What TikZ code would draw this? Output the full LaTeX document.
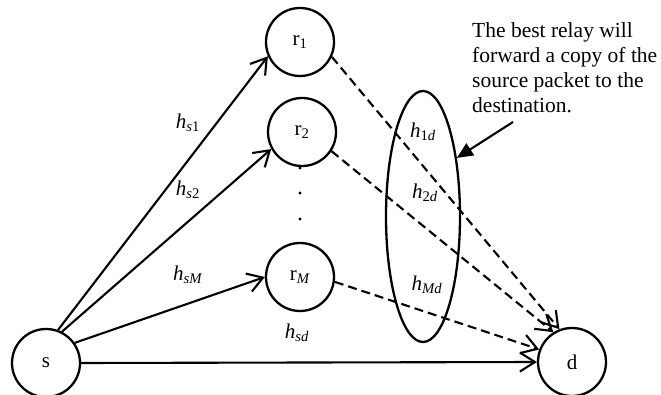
\documentclass[tikz,border=0pt]{standalone}
\usepackage{fontspec}
\setmainfont{Liberation Serif}
\usetikzlibrary{arrows.meta,shapes.geometric}
\begin{document}
\begin{tikzpicture}[x=1pt,y=-1pt,
  nd/.style={circle,draw,line width=2.3pt,minimum size=68pt,inner sep=0pt,font=\fontsize{21}{25}\selectfont},
  lbl/.style={inner sep=0pt,font=\fontsize{21}{25}\selectfont},
  link/.style={line width=2.1pt,-{Straight Barb[length=15pt,width=19pt,line width=2.1pt]}},
  dlink/.style={link,dash pattern=on 9pt off 5pt},
  callout/.style={line width=2.1pt,-{Triangle[length=16pt,width=14pt]}},
]
\useasboundingbox (0,0) rectangle (661,395);
\node[nd] (s) at (46,363) {s};
\node[nd] (d) at (572,362) {d};
\node[nd] (r1) at (300,42) {r\textsubscript{1}};
\node[nd] (r2) at (302,132) {r\textsubscript{2}};
\node[nd] (rM) at (300,277) {r\textsubscript{\textit{M}}};
\node[draw,ellipse,line width=2.3pt,minimum width=74pt,minimum height=251pt,inner sep=0pt] (grp) at (423,216.5) {};
\fill (300,168) circle (1.6pt);
\fill (300,193) circle (1.6pt);
\fill (300,219) circle (1.6pt);

\draw[link] (s.70) -- (r1.204);
\draw[link] (s.63) -- (r2.209);
\draw[link] (s.35) -- (rM.180);
\draw[link] (s.east) -- (d.west);
\draw[dlink] (r1.-25) -- (d.111);
\draw[dlink] (r2.-33) -- (d.122);
\draw[dlink] (rM.-8) -- (d.159);

\node[lbl] (hs1) at (188,123) {\textit{h}\textsubscript{\textit{s}1}};
\node[lbl] (hs2) at (188,190) {\textit{h}\textsubscript{\textit{s}2}};
\node[lbl] (hsM) at (188,275) {\textit{h}\textsubscript{\textit{sM}}};
\node[lbl] (hsd) at (297,333) {\textit{h}\textsubscript{\textit{sd}}};
\node[lbl] (h1d) at (423,132) {\textit{h}\textsubscript{1\textit{d}}};
\node[lbl] (h2d) at (425,193) {\textit{h}\textsubscript{2\textit{d}}};
\node[lbl] (hMd) at (427,285) {\textit{h}\textsubscript{\textit{Md}}};

\node[anchor=north west,align=left,inner sep=0pt,font=\fontsize{21.5}{25}\selectfont] (note) at (472,22) {The best relay will\\forward a copy of the\\source packet to the\\destination.};
\coordinate (ann) at (513,122);
\draw[callout] (ann) -- (grp.60);
\end{tikzpicture}
\end{document}
